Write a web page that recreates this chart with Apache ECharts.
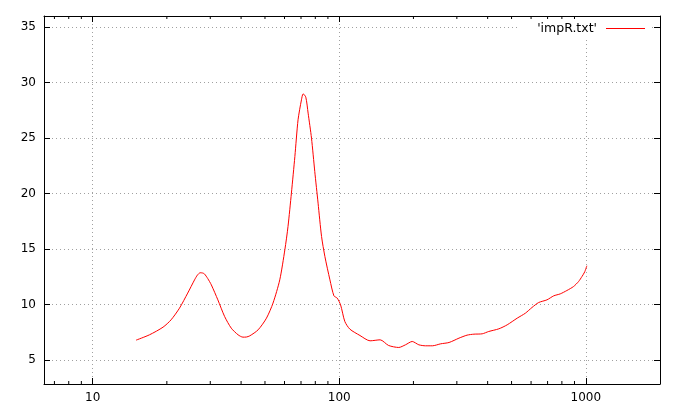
<!DOCTYPE html>
<html>
<head>
<meta charset="utf-8">
<script src="https://cdn.jsdelivr.net/npm/echarts@6/dist/echarts.min.js"></script>
<style>
html,body{margin:0;padding:0;background:#fff;}
#chart{width:684px;height:414px;}
</style>
</head>
<body>
<div id="chart"></div>
<script>
// Frequency (Hz) and impedance values
const freq = [15.0, 17.0, 19.3, 20.8, 22.5, 24.3, 25.9, 26.6, 27.3, 27.9, 28.4, 29.3, 30.3, 32.2, 34.3, 36.5, 38.9, 40.7, 42.0, 43.4, 46.9, 50.7, 53.9, 57.4, 60.2, 62.0, 64.0, 66.1, 68.1, 70.3, 71.4, 73.2, 74.8, 77.2, 79.6, 82.1, 84.8, 87.5, 91.7, 95.2, 98.1, 101.3, 105.4, 110.5, 121.4, 133.4, 146.6, 158.6, 174.4, 185.6, 197.7, 210.4, 224, 238.7, 258, 279, 306, 330, 352, 380, 404, 444, 480, 527, 569, 605, 644, 696, 741, 788, 838, 892, 935, 965, 990, 1010];
const imp = [6.80, 7.28, 7.97, 8.63, 9.68, 11.04, 12.23, 12.66, 12.87, 12.85, 12.77, 12.35, 11.78, 10.43, 8.93, 7.88, 7.28, 7.07, 7.08, 7.19, 7.73, 8.78, 10.14, 12.23, 14.94, 17.04, 20.05, 23.34, 26.65, 28.45, 28.99, 28.69, 27.25, 25.0, 21.99, 19.14, 16.14, 14.33, 12.23, 10.79, 10.59, 9.98, 8.48, 7.79, 7.22, 6.74, 6.83, 6.32, 6.14, 6.38, 6.68, 6.38, 6.29, 6.29, 6.47, 6.59, 6.98, 7.25, 7.34, 7.37, 7.58, 7.82, 8.18, 8.78, 9.23, 9.74, 10.19, 10.43, 10.79, 10.97, 11.27, 11.63, 12.08, 12.53, 12.95, 13.5];
const seriesName = "'impR.txt'";
const minorTickValues = [7, 8, 9, 20, 30, 40, 50, 60, 70, 80, 90, 200, 300, 400, 500, 600, 700, 800, 900];
const xMin = 6.35, xMax = 2000;
const yMin = 2.85, yMax = 36;

const font = 'DejaVu Sans';
const gridColor = '#a0a0a0';

function logLabel(v) {
  const l = Math.log10(v);
  if (Math.abs(l - Math.round(l)) < 1e-6) return String(Math.round(Math.pow(10, Math.round(l))));
  return '';
}
function yLabel(v) {
  if (Math.abs(v / 5 - Math.round(v / 5)) < 1e-6) return String(Math.round(v));
  return '';
}

const chart = echarts.init(document.getElementById('chart'), null, {renderer: 'canvas'});
const option = {
  animation: false,
  backgroundColor: '#fff',
  textStyle: {fontFamily: font, fontSize: 12, color: '#000'},
  grid: {left: 44, right: 24, top: 16, bottom: 30, containLabel: false},
  legend: {
    data: [seriesName],
    right: 33,
    top: 17,
    align: 'right',
    icon: 'rect',
    itemWidth: 39,
    itemHeight: 1,
    padding: [5, 6, 5, 20],
    backgroundColor: '#fff',
    textStyle: {fontFamily: font, fontSize: 12.5, color: '#000', padding: [0, 4, 0, 0]}
  },
  xAxis: [{
    type: 'log', logBase: 10, min: xMin, max: xMax, position: 'bottom',
    axisLine: {show: true, lineStyle: {color: '#000', width: 1}},
    axisTick: {show: true, inside: true, length: 6, lineStyle: {color: '#000'}},
    axisLabel: {formatter: logLabel, margin: 8, fontFamily: font, fontSize: 12, color: '#000', showMinLabel: true, showMaxLabel: true},
    splitLine: {show: true, lineStyle: {color: gridColor, type: [1, 3], width: 1}},
    minorTick: {show: false}
  }, {
    type: 'log', logBase: 10, min: xMin, max: xMax, position: 'top',
    axisLine: {show: true, lineStyle: {color: '#000', width: 1}},
    axisTick: {show: true, inside: true, length: 6, lineStyle: {color: '#000'}},
    axisLabel: {show: false},
    splitLine: {show: false}
  }],
  yAxis: [{
    type: 'value', min: yMin, max: yMax, splitNumber: 7, position: 'left',
    axisLine: {show: true, lineStyle: {color: '#000', width: 1}},
    axisTick: {show: true, inside: true, length: 6, lineStyle: {color: '#000'}},
    axisLabel: {formatter: yLabel, margin: 8, fontFamily: font, fontSize: 12, color: '#000'},
    splitLine: {show: true, lineStyle: {color: gridColor, type: [1, 3], width: 1}}
  }, {
    type: 'value', min: yMin, max: yMax, splitNumber: 7, position: 'right',
    axisLine: {show: true, lineStyle: {color: '#000', width: 1}},
    axisTick: {show: true, inside: true, length: 6, lineStyle: {color: '#000'}},
    axisLabel: {show: false},
    splitLine: {show: false}
  }],
  series: [{
    name: seriesName,
    type: 'line',
    xAxisIndex: 0, yAxisIndex: 0,
    data: freq.map((f, i) => [f, imp[i]]),
    showSymbol: false,
    symbol: 'none',
    smooth: 0.25,
    lineStyle: {color: '#ff0000', width: 1},
    itemStyle: {color: '#ff0000'},
    z: 5
  }, {
    name: 'minorTicks',
    type: 'custom',
    xAxisIndex: 0, yAxisIndex: 0,
    silent: true,
    data: minorTickValues.map(v => [v, yMin]),
    renderItem: function (params, api) {
      const x = api.value(0);
      const pb = api.coord([x, yMin]);
      const pt = api.coord([x, yMax]);
      const st = {stroke: '#000', lineWidth: 1};
      return {
        type: 'group',
        children: [
          {type: 'line', shape: {x1: pb[0], y1: pb[1], x2: pb[0], y2: pb[1] - 3}, style: st},
          {type: 'line', shape: {x1: pt[0], y1: pt[1], x2: pt[0], y2: pt[1] + 3}, style: st}
        ]
      };
    },
    z: 6
  }]
};
chart.setOption(option);
</script>
</body>
</html>
